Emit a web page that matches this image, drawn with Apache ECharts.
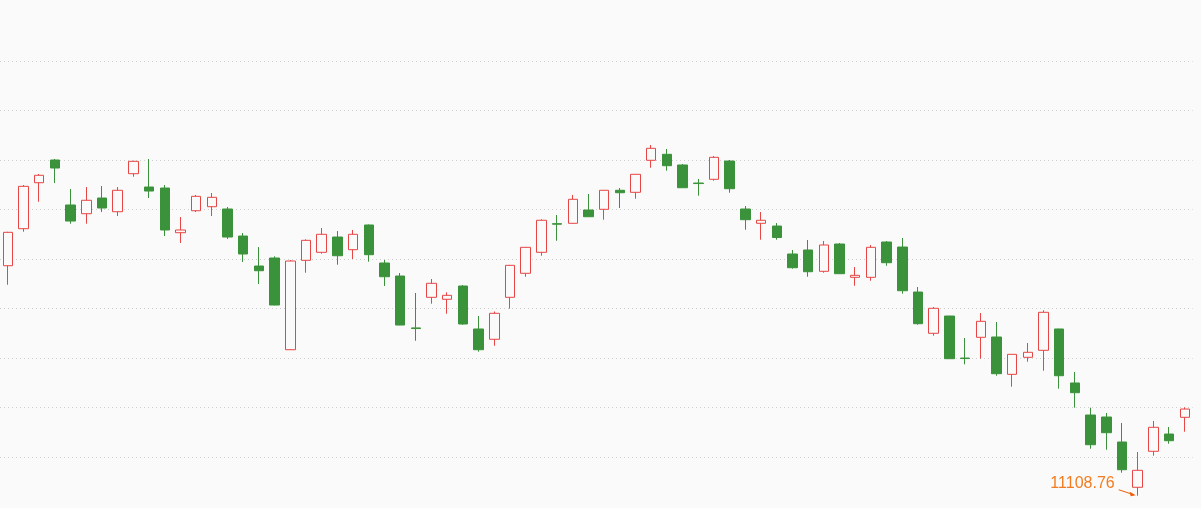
<!DOCTYPE html>
<html>
<head>
<meta charset="utf-8">
<script src="https://cdn.jsdelivr.net/npm/echarts@6/dist/echarts.min.js"></script>
<style>
  html, body { margin: 0; padding: 0; background: #fafafa; }
  #chart { width: 1201px; height: 508px; }
</style>
</head>
<body>
<div id="chart"></div>
<script>
// 76 个交易日，坐标轴隐藏
const categories = Array.from({ length: 76 }, (_, i) => String(i + 1));

// [open, close, lowest, highest]
const candles = [
    [11573.4, 11640.9, 11535.0, 11642.0],
    [11648.2, 11733.8, 11642.1, 11736.5],
    [11741.1, 11756.1, 11702.7, 11758.7],
    [11787.0, 11770.8, 11740.5, 11789.0],
    [11696.1, 11663.7, 11658.3, 11728.4],
    [11678.5, 11705.6, 11658.3, 11732.4],
    [11710.2, 11690.0, 11681.9, 11734.4],
    [11682.5, 11725.8, 11673.8, 11732.4],
    [11759.3, 11784.3, 11753.2, 11785.5],
    [11732.4, 11724.3, 11710.2, 11789.0],
    [11730.4, 11645.6, 11633.4, 11736.5],
    [11640.1, 11645.6, 11619.3, 11671.8],
    [11684.5, 11713.6, 11681.9, 11716.3],
    [11692.6, 11711.6, 11673.8, 11720.3],
    [11688.0, 11631.4, 11627.4, 11692.0],
    [11633.4, 11597.1, 11580.9, 11639.5],
    [11572.8, 11563.3, 11536.5, 11611.2],
    [11589.0, 11494.0, 11493.5, 11592.4],
    [11403.7, 11582.9, 11403.2, 11585.0],
    [11584.3, 11624.7, 11559.3, 11626.8],
    [11600.5, 11636.9, 11597.7, 11649.6],
    [11631.4, 11593.6, 11575.5, 11643.5],
    [11605.8, 11636.9, 11587.0, 11645.6],
    [11655.7, 11595.7, 11581.5, 11656.7],
    [11578.9, 11551.2, 11532.4, 11585.0],
    [11552.6, 11453.6, 11453.1, 11558.7],
    [11447.8, 11446.5, 11421.9, 11518.3],
    [11509.6, 11537.9, 11496.7, 11546.6],
    [11505.6, 11513.6, 11476.5, 11519.7],
    [11532.4, 11455.7, 11454.2, 11534.4],
    [11445.6, 11403.7, 11399.7, 11471.8],
    [11424.8, 11477.3, 11411.8, 11480.9],
    [11509.6, 11574.2, 11486.6, 11575.0],
    [11558.1, 11610.6, 11551.2, 11611.3],
    [11600.5, 11665.2, 11593.6, 11667.2],
    [11658.4, 11657.3, 11623.9, 11675.9],
    [11659.1, 11707.6, 11658.6, 11716.3],
    [11686.0, 11672.4, 11672.0, 11718.3],
    [11687.4, 11725.8, 11666.4, 11726.5],
    [11725.8, 11720.9, 11690.0, 11730.4],
    [11721.7, 11758.1, 11708.8, 11758.7],
    [11786.4, 11810.6, 11771.4, 11817.3],
    [11798.5, 11775.5, 11765.4, 11809.2],
    [11776.9, 11731.0, 11730.5, 11778.9],
    [11740.5, 11739.4, 11714.9, 11748.6],
    [11748.0, 11792.4, 11745.2, 11795.1],
    [11784.9, 11729.0, 11720.9, 11787.0],
    [11688.0, 11666.4, 11646.2, 11694.0],
    [11659.1, 11665.2, 11626.0, 11681.9],
    [11653.6, 11630.4, 11626.0, 11659.7],
    [11597.1, 11569.4, 11567.4, 11605.2],
    [11605.2, 11561.3, 11551.2, 11625.4],
    [11562.1, 11615.3, 11559.3, 11623.3],
    [11617.3, 11557.3, 11557.0, 11619.3],
    [11550.0, 11554.0, 11533.0, 11570.8],
    [11550.0, 11610.6, 11543.1, 11615.3],
    [11621.3, 11579.5, 11573.4, 11623.3],
    [11611.2, 11522.9, 11516.9, 11629.4],
    [11520.3, 11456.3, 11454.2, 11530.4],
    [11436.9, 11487.4, 11432.0, 11490.0],
    [11471.8, 11385.6, 11385.2, 11472.3],
    [11386.9, 11385.9, 11374.2, 11427.4],
    [11428.8, 11461.1, 11385.6, 11477.9],
    [11429.4, 11355.3, 11351.2, 11459.7],
    [11354.0, 11394.4, 11329.0, 11395.0],
    [11388.4, 11398.5, 11379.5, 11417.3],
    [11402.5, 11479.3, 11361.3, 11483.3],
    [11445.6, 11351.2, 11325.0, 11446.1],
    [11336.5, 11316.9, 11286.6, 11358.7],
    [11271.8, 11211.8, 11203.7, 11286.6],
    [11267.8, 11236.1, 11201.7, 11275.9],
    [11217.3, 11161.3, 11155.3, 11255.7],
    [11125.8, 11160.1, 11108.76, 11197.1],
    [11198.5, 11247.0, 11189.6, 11259.7],
    [11233.4, 11219.9, 11213.8, 11247.6],
    [11267.2, 11283.9, 11238.1, 11287.4]
];

const upColor = '#e84545';
const downColor = '#3a923a';

const chart = echarts.init(document.getElementById('chart'));

chart.setOption({
    backgroundColor: '#fafafa',
    animation: false,
    grid: {
        top: 11.5,
        bottom: 1.5,
        left: -1.4,
        right: 8.4
    },
    xAxis: {
        type: 'category',
        data: categories,
        show: false
    },
    yAxis: {
        type: 'value',
        min: 11087,
        max: 12087,
        interval: 100,
        axisLine: { show: false },
        axisTick: { show: false },
        axisLabel: { show: false },
        splitLine: {
            showMinLine: false,
            showMaxLine: false,
            lineStyle: {
                type: [1, 3],
                color: '#cfcfcf'
            }
        }
    },
    series: [
        {
            type: 'candlestick',
            data: candles,
            barWidth: 10,
            itemStyle: {
                color: '#fafafa',
                color0: downColor,
                borderColor: upColor,
                borderColor0: downColor,
                borderWidth: 1
            }
        }
    ]
});

// 最低点标注
let minIdx = 0;
candles.forEach((c, i) => {
    if (c[2] < candles[minIdx][2]) minIdx = i;
});
const minLow = candles[minIdx][2];
const p = chart.convertToPixel({ seriesIndex: 0 }, [minIdx, minLow]);

chart.setOption({
    graphic: [
        {
            type: 'text',
            x: p[0] - 23,
            y: p[1] - 12.4,
            style: {
                text: minLow.toFixed(2),
                fill: '#f47c20',
                font: '16px "Liberation Sans", Arial, sans-serif',
                align: 'right',
                verticalAlign: 'middle'
            }
        },
        {
            type: 'line',
            shape: { x1: p[0] - 19, y1: p[1] - 6, x2: p[0] - 4, y2: p[1] - 1 },
            style: { stroke: '#f25c05', lineWidth: 1 }
        },
        {
            type: 'polygon',
            shape: {
                points: [
                    [p[0] - 2, p[1] - 0.5],
                    [p[0] - 8, p[1] - 4],
                    [p[0] - 7, p[1] + 0.5]
                ]
            },
            style: { fill: '#f25c05' }
        }
    ]
});
</script>
</body>
</html>
